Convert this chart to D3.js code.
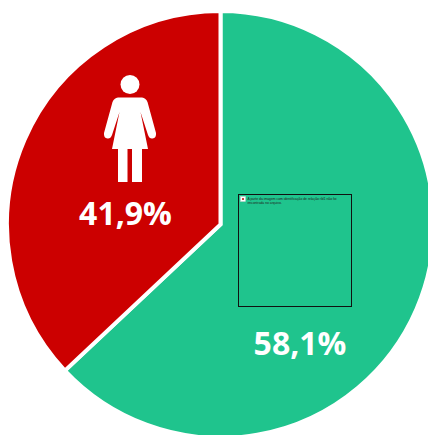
<!DOCTYPE html>
<html><head><meta charset="utf-8">
<script src="https://cdn.jsdelivr.net/npm/d3@7/dist/d3.min.js"></script>
<style>html,body{margin:0;padding:0;background:#fff}svg{display:block}</style>
</head><body><svg id="c" width="428" height="435"></svg>
<script>
const categories = ["Homens", "Mulheres"];
const sliceShares = [63, 37];
const sliceLabels = ["58,1%", "41,9%"];
const sliceColors = ["#1fc48d", "#cc0000"];
const placeholderLines = ["A parte da imagem com identificação de relação rId1 não foi", "encontrada no arquivo."];

const svg = d3.select("#c");
const cx = 220.5, cy = 224.5, R = 213.5;
const pie = d3.pie().sort(null).value(d => d)(sliceShares);
const arc = d3.arc().innerRadius(0).outerRadius(R);
const g = svg.append("g").attr("transform", `translate(${cx},${cy})`);
g.selectAll("path").data(pie).join("path")
  .attr("d", arc).attr("fill", (d,i) => sliceColors[i])
  .attr("stroke", "#fff").attr("stroke-width", 4).attr("stroke-linejoin","miter");

svg.selectAll("text.lab").data(sliceLabels).join("text").attr("class","lab")
  .attr("x", (d,i) => [300,125.5][i]).attr("y", (d,i) => [355,225][i])
  .attr("text-anchor","middle").attr("fill","#fff")
  .attr("font-family","'Open Sans'").attr("font-weight",700).attr("font-size",32)
  .text(d => d);

// female pictogram
const p = svg.append("g").attr("fill","#fff");
p.append("circle").attr("cx",130).attr("cy",84.5).attr("r",9.5);
p.append("path").attr("d","M118 97.5 L142 97.5 Q146 98 147.5 102 L156 133 Q156.5 138 152.5 138.5 Q149.5 139 148 135 L140.5 112 L148 149 L112 149 L119.5 112 L112 135 Q110.5 139 107.5 138.5 Q103.5 138 104 133 L112.5 102 Q114 98 118 97.5 Z");
p.append("rect").attr("x",118).attr("y",148).attr("width",9.5).attr("height",34);
p.append("rect").attr("x",132).attr("y",148).attr("width",10).attr("height",34);

// missing-image placeholder
svg.append("rect").attr("x",238.5).attr("y",194.5).attr("width",113).attr("height",112)
  .attr("fill","none").attr("stroke","#111").attr("stroke-width",1);
svg.append("rect").attr("x",240.5).attr("y",196.5).attr("width",5).attr("height",5)
  .attr("fill","#fff").attr("stroke","#ccc").attr("stroke-width",0.5);
svg.append("rect").attr("x",242).attr("y",198).attr("width",2).attr("height",2).attr("fill","#c44");
svg.selectAll("text.ph").data(placeholderLines).join("text").attr("class","ph")
  .attr("x",247.5).attr("y",(d,i) => 199.5 + i*4)
  .attr("font-family","'Liberation Sans'").attr("font-size",3.35).attr("fill","#222")
  .text(d => d);
</script></body></html>
